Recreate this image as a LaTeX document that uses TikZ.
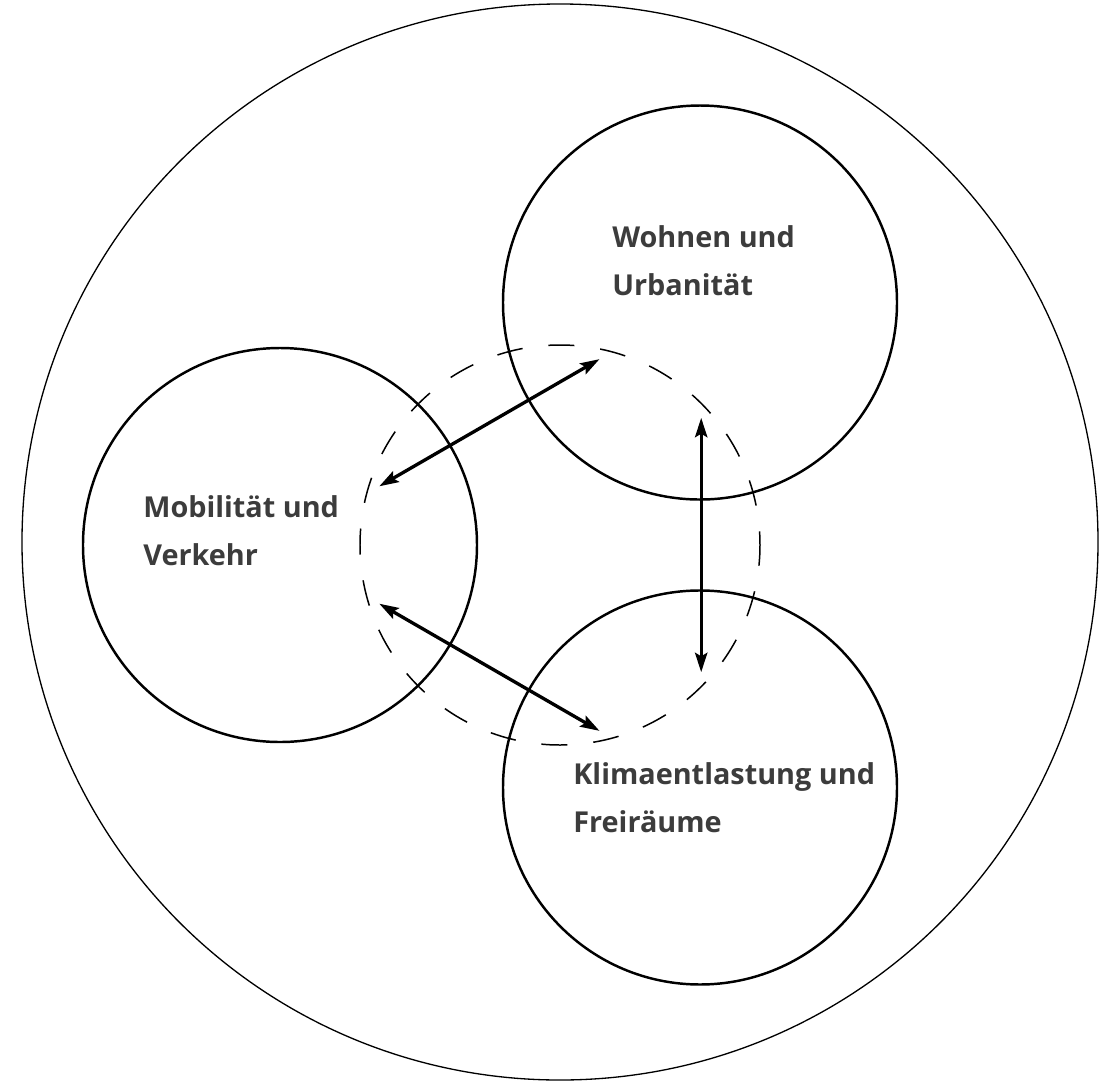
\documentclass[tikz,border=0pt]{standalone}
\usepackage{fontspec}
\setmainfont{Open Sans}
\usetikzlibrary{arrows.meta}
\definecolor{labelgray}{HTML}{3C3C3C}

\begin{document}
\begin{tikzpicture}[
  field/.style={circle,draw,line width=1.4pt,minimum size=7.88cm,inner sep=0pt},
  link/.style={line width=1.9pt,{Stealth[length=11pt,width=7pt,inset=2pt]}-{Stealth[length=11pt,width=7pt,inset=2pt]}},
  fieldlabel/.style={anchor=base west,align=left,text=labelgray,inner sep=0pt,
    font=\fontsize{16.4}{27.3}\selectfont\bfseries}
]
\useasboundingbox (-11.2,-10.74) rectangle (10.98,10.9);

% outer frame and the dashed ring
\draw[line width=0.75pt] (0,0.06) circle (10.76);
\draw[line width=0.85pt,dash pattern=on 14.8pt off 14.8pt,dash phase=7pt] (0,0) circle (4);

% the three fields
\node[field] (wohnen) at (60:5.6) {};
\node[field] (mobil) at (180:5.6) {};
\node[field] (klima) at (300:5.6) {};

\node[fieldlabel] (wohnenlabel) at (1.04,5.0) {Wohnen und\\Urbanität};
\node[fieldlabel] (mobillabel) at (-8.34,-0.40) {Mobilität und\\Verkehr};
\node[fieldlabel] (klimalabel) at (0.26,-5.74) {Klimaentlastung und\\Freiräume};

% ends of the links
\coordinate (mw) at (162:3.8);
\coordinate (wm) at (78:3.8);
\coordinate (wk) at (42:3.8);
\coordinate (kw) at (-42:3.8);
\coordinate (km) at (-78:3.8);
\coordinate (mk) at (198:3.8);

\draw[link] (mw) -- (wm);
\draw[link] (wk) -- (kw);
\draw[link] (mk) -- (km);
\end{tikzpicture}
\end{document}
